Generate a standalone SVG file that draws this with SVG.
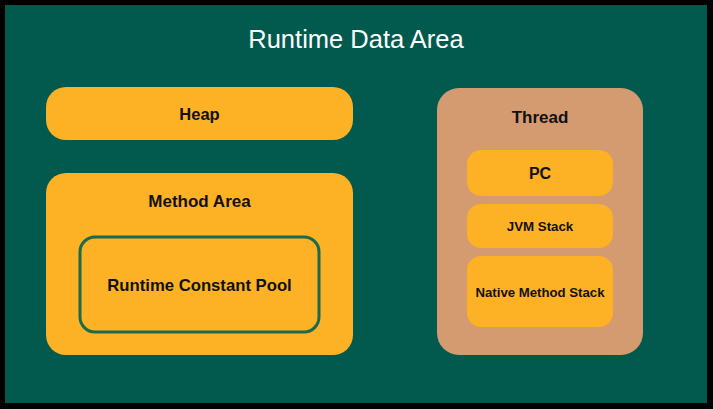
<svg xmlns="http://www.w3.org/2000/svg" width="713" height="409" viewBox="0 0 713 409">
<style>
.box{fill:#fdb124;}
.lbl{font-family:"Liberation Sans",Arial,sans-serif;font-weight:bold;fill:#111;text-anchor:middle;}
.title{font-family:"Liberation Sans",Arial,sans-serif;fill:#fff;text-anchor:middle;font-size:25.5px;}
</style>
<rect x="0" y="0" width="713" height="409" fill="#000"/>
<rect x="5" y="5" width="702" height="398" fill="#015a4d"/>
<text class="title" x="356" y="48">Runtime Data Area</text>
<g id="heap">
<rect class="box" x="46" y="87" width="307" height="53" rx="20"/>
<text class="lbl" x="199.5" y="120" font-size="16.5">Heap</text>
</g>
<g id="method-area">
<rect class="box" x="46" y="173" width="307" height="182" rx="20"/>
<text class="lbl" x="199.5" y="207" font-size="17">Method Area</text>
</g>
<g id="runtime-constant-pool">
<rect x="80" y="237" width="239" height="95" rx="15" fill="none" stroke="#1c6a4e" stroke-width="3"/>
<text class="lbl" x="199.5" y="291" font-size="16.7">Runtime Constant Pool</text>
</g>
<g id="thread">
<rect x="437" y="88" width="206" height="267" rx="22" fill="#d49a70"/>
<text class="lbl" x="540" y="123" font-size="17">Thread</text>
</g>
<g id="pc">
<rect class="box" x="467" y="150" width="146" height="46" rx="14"/>
<text class="lbl" x="540" y="179" font-size="16">PC</text>
</g>
<g id="jvm-stack">
<rect class="box" x="467" y="204" width="146" height="44" rx="14"/>
<text class="lbl" x="540" y="231" font-size="13.3">JVM Stack</text>
</g>
<g id="native-method-stack">
<rect class="box" x="467" y="256" width="146" height="71" rx="14"/>
<text class="lbl" x="540" y="297" font-size="13.2">Native Method Stack</text>
</g>
<g id="connectors"></g>
</svg>
